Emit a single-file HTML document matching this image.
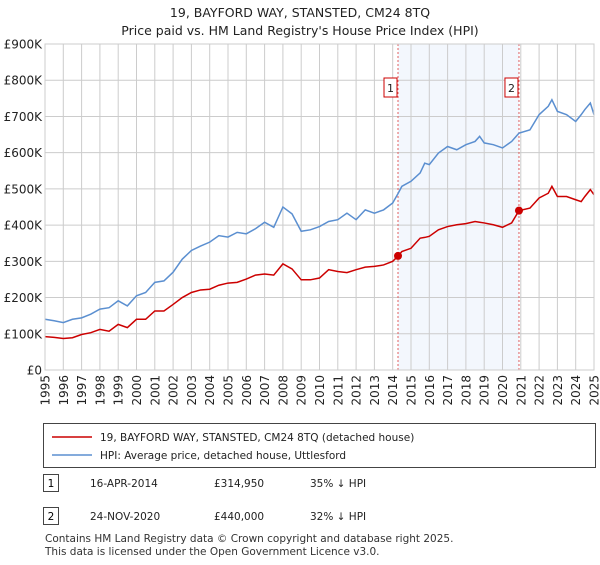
<!DOCTYPE html>
<html><head><meta charset="utf-8"><style>
body{margin:0;width:600px;height:560px;background:#fff;font-family:"Liberation Sans","DejaVu Sans",sans-serif;overflow:hidden}
svg text{font-family:"DejaVu Sans","Liberation Sans",sans-serif}
</style></head><body>
<svg id="chart" width="600" height="560" xmlns="http://www.w3.org/2000/svg">
<text x="300" y="17" text-anchor="middle" font-size="12.5" fill="#222">19, BAYFORD WAY, STANSTED, CM24 8TQ</text>
<text x="300" y="35" text-anchor="middle" font-size="12.5" fill="#222">Price paid vs. HM Land Registry's House Price Index (HPI)</text>
<g id="grid"></g><g id="marks"></g><g id="axes"></g>
<rect x="43.5" y="423.5" width="552" height="44" fill="#fff" stroke="#444"/>
<line x1="52" y1="437" x2="92" y2="437" stroke="#cc0000" stroke-width="1.5"/>
<text x="100" y="441" font-size="10.5" fill="#222">19, BAYFORD WAY, STANSTED, CM24 8TQ (detached house)</text>
<line x1="52" y1="455" x2="92" y2="455" stroke="#5b8fd0" stroke-width="1.5"/>
<text x="100" y="459" font-size="10.5" fill="#222">HPI: Average price, detached house, Uttlesford</text>
<rect x="43.5" y="474.5" width="15" height="17" fill="#fff" stroke="#444"/>
<text x="51" y="487" text-anchor="middle" font-size="10.5">1</text>
<text x="90" y="487" font-size="10.5" fill="#222">16-APR-2014</text>
<text x="214" y="487" font-size="10.5" fill="#222">£314,950</text>
<text x="310" y="487" font-size="10.5" fill="#222">35% ↓ HPI</text>
<rect x="43.5" y="507.5" width="15" height="17" fill="#fff" stroke="#444"/>
<text x="51" y="520" text-anchor="middle" font-size="10.5">2</text>
<text x="90" y="520" font-size="10.5" fill="#222">24-NOV-2020</text>
<text x="214" y="520" font-size="10.5" fill="#222">£440,000</text>
<text x="310" y="520" font-size="10.5" fill="#222">32% ↓ HPI</text>
<text x="45" y="542" font-size="10.5" fill="#333">Contains HM Land Registry data © Crown copyright and database right 2025.</text>
<text x="45" y="555" font-size="10.5" fill="#333">This data is licensed under the Open Government Licence v3.0.</text>
</svg>
<script>
const years=[1995,1995.5,1996,1996.5,1997,1997.5,1998,1998.5,1999,1999.5,2000,2000.5,2001,2001.5,2002,2002.5,2003,2003.5,2004,2004.5,2005,2005.5,2006,2006.5,2007,2007.5,2008,2008.5,2009,2009.5,2010,2010.5,2011,2011.5,2012,2012.5,2013,2013.5,2014,2014.3,2014.5,2015,2015.5,2015.75,2016,2016.5,2017,2017.5,2018,2018.5,2018.75,2019,2019.5,2020,2020.5,2020.9,2021.5,2022,2022.5,2022.7,2023,2023.5,2024,2024.3,2024.5,2024.8,2025];
const hpiValues=[140,136,131,140,144,154,168,172,191,177,205,214,242,246,270,306,330,342,353,371,367,380,376,390,408,394,450,431,383,387,396,410,415,433,415,442,433,442,461,488,507,521,544,571,567,599,617,608,622,631,645,627,622,613,631,654,663,705,728,746,714,705,686,705,719,737,705];
const priceValues=[92,90,87,89,98,103,112,107,126,117,140,140,163,163,181,200,214,221,223,234,240,242,251,262,265,262,293,279,249,249,254,277,272,269,277,284,286,290,300,315,327,336,364,366,369,387,396,401,404,410,408,406,401,394,406,440,447,475,488,507,479,479,470,465,479,498,484];
const yTicks=[0,100,200,300,400,500,600,700,800,900];
const yTickLabels=["£0","£100K","£200K","£300K","£400K","£500K","£600K","£700K","£800K","£900K"];
const xTicks=[1995,1996,1997,1998,1999,2000,2001,2002,2003,2004,2005,2006,2007,2008,2009,2010,2011,2012,2013,2014,2015,2016,2017,2018,2019,2020,2021,2022,2023,2024,2025];
const saleYears=[2014.29,2020.9];
const salePrices=[314.95,440];
const saleLabels=["1","2"];
const X0=45,X1=594,Y0=370,Y1=44;
const xs=y=>X0+(y-1995)/30*(X1-X0);
const ys=v=>Y0-v/900*(Y0-Y1);
const NS="http://www.w3.org/2000/svg";
function mk(parent,tag,attrs){const e=document.createElementNS(NS,tag);for(const k in attrs)e.setAttribute(k,attrs[k]);document.getElementById(parent).appendChild(e);return e;}
let r=mk('grid','rect',{x:xs(saleYears[0]),y:Y1,width:xs(saleYears[1])-xs(saleYears[0]),height:Y0-Y1,fill:'#eef3fc',opacity:0.7});


yTicks.forEach((v,i)=>{
 const l=mk('grid','line',{x1:X0,x2:X1,y1:ys(v),y2:ys(v),stroke:'#ccc'});
 
 
 const t=mk('axes','text',{x:X0-3,y:ys(v)+4.5,'text-anchor':'end','font-size':'12',fill:'#222'});
 
 
 t.textContent=yTickLabels[i];
});
xTicks.forEach(y=>{
 const l=mk('grid','line',{x1:xs(y),x2:xs(y),y1:Y1,y2:Y0,stroke:'#ccc'});
 
 
 const t=mk('axes','text',{x:xs(y),y:Y0+5,'text-anchor':'end','font-size':'12',fill:'#222',transform:`rotate(-90 ${xs(y)} ${Y0+5})`,dy:'4.5'});
 
 
 t.textContent=y;
});
saleYears.forEach((y,i)=>{
 const l=mk('marks','line',{x1:xs(y),x2:xs(y),y1:Y1,y2:Y0,stroke:'#e06060','stroke-dasharray':'2,2'});
 
 
 const b=mk('marks','rect',{x:xs(y)-14,y:78,width:13,height:19,fill:'#fff',stroke:'#cc0000'});
 
 
 const t=mk('marks','text',{x:xs(y)-7.5,y:92,'text-anchor':'middle','font-size':'11',fill:'#222'});
 
 
 t.textContent=saleLabels[i];
});
const hp=mk('marks','polyline',{points:years.map((y,i)=>xs(y)+','+ys(hpiValues[i])).join(' '),fill:'none',stroke:'#5b8fd0','stroke-width':1.5});


const pp=mk('marks','polyline',{points:years.map((y,i)=>xs(y)+','+ys(priceValues[i])).join(' '),fill:'none',stroke:'#cc0000','stroke-width':1.5});


saleYears.forEach((y,i)=>{
 const c=mk('marks','circle',{cx:xs(y),cy:ys(salePrices[i]),r:4,fill:'#cc0000'});
 
 
});
const fr=mk('axes','rect',{x:X0,y:Y1,width:X1-X0,height:Y0-Y1,fill:'none',stroke:'#ccc'});


</script>
</body></html>
